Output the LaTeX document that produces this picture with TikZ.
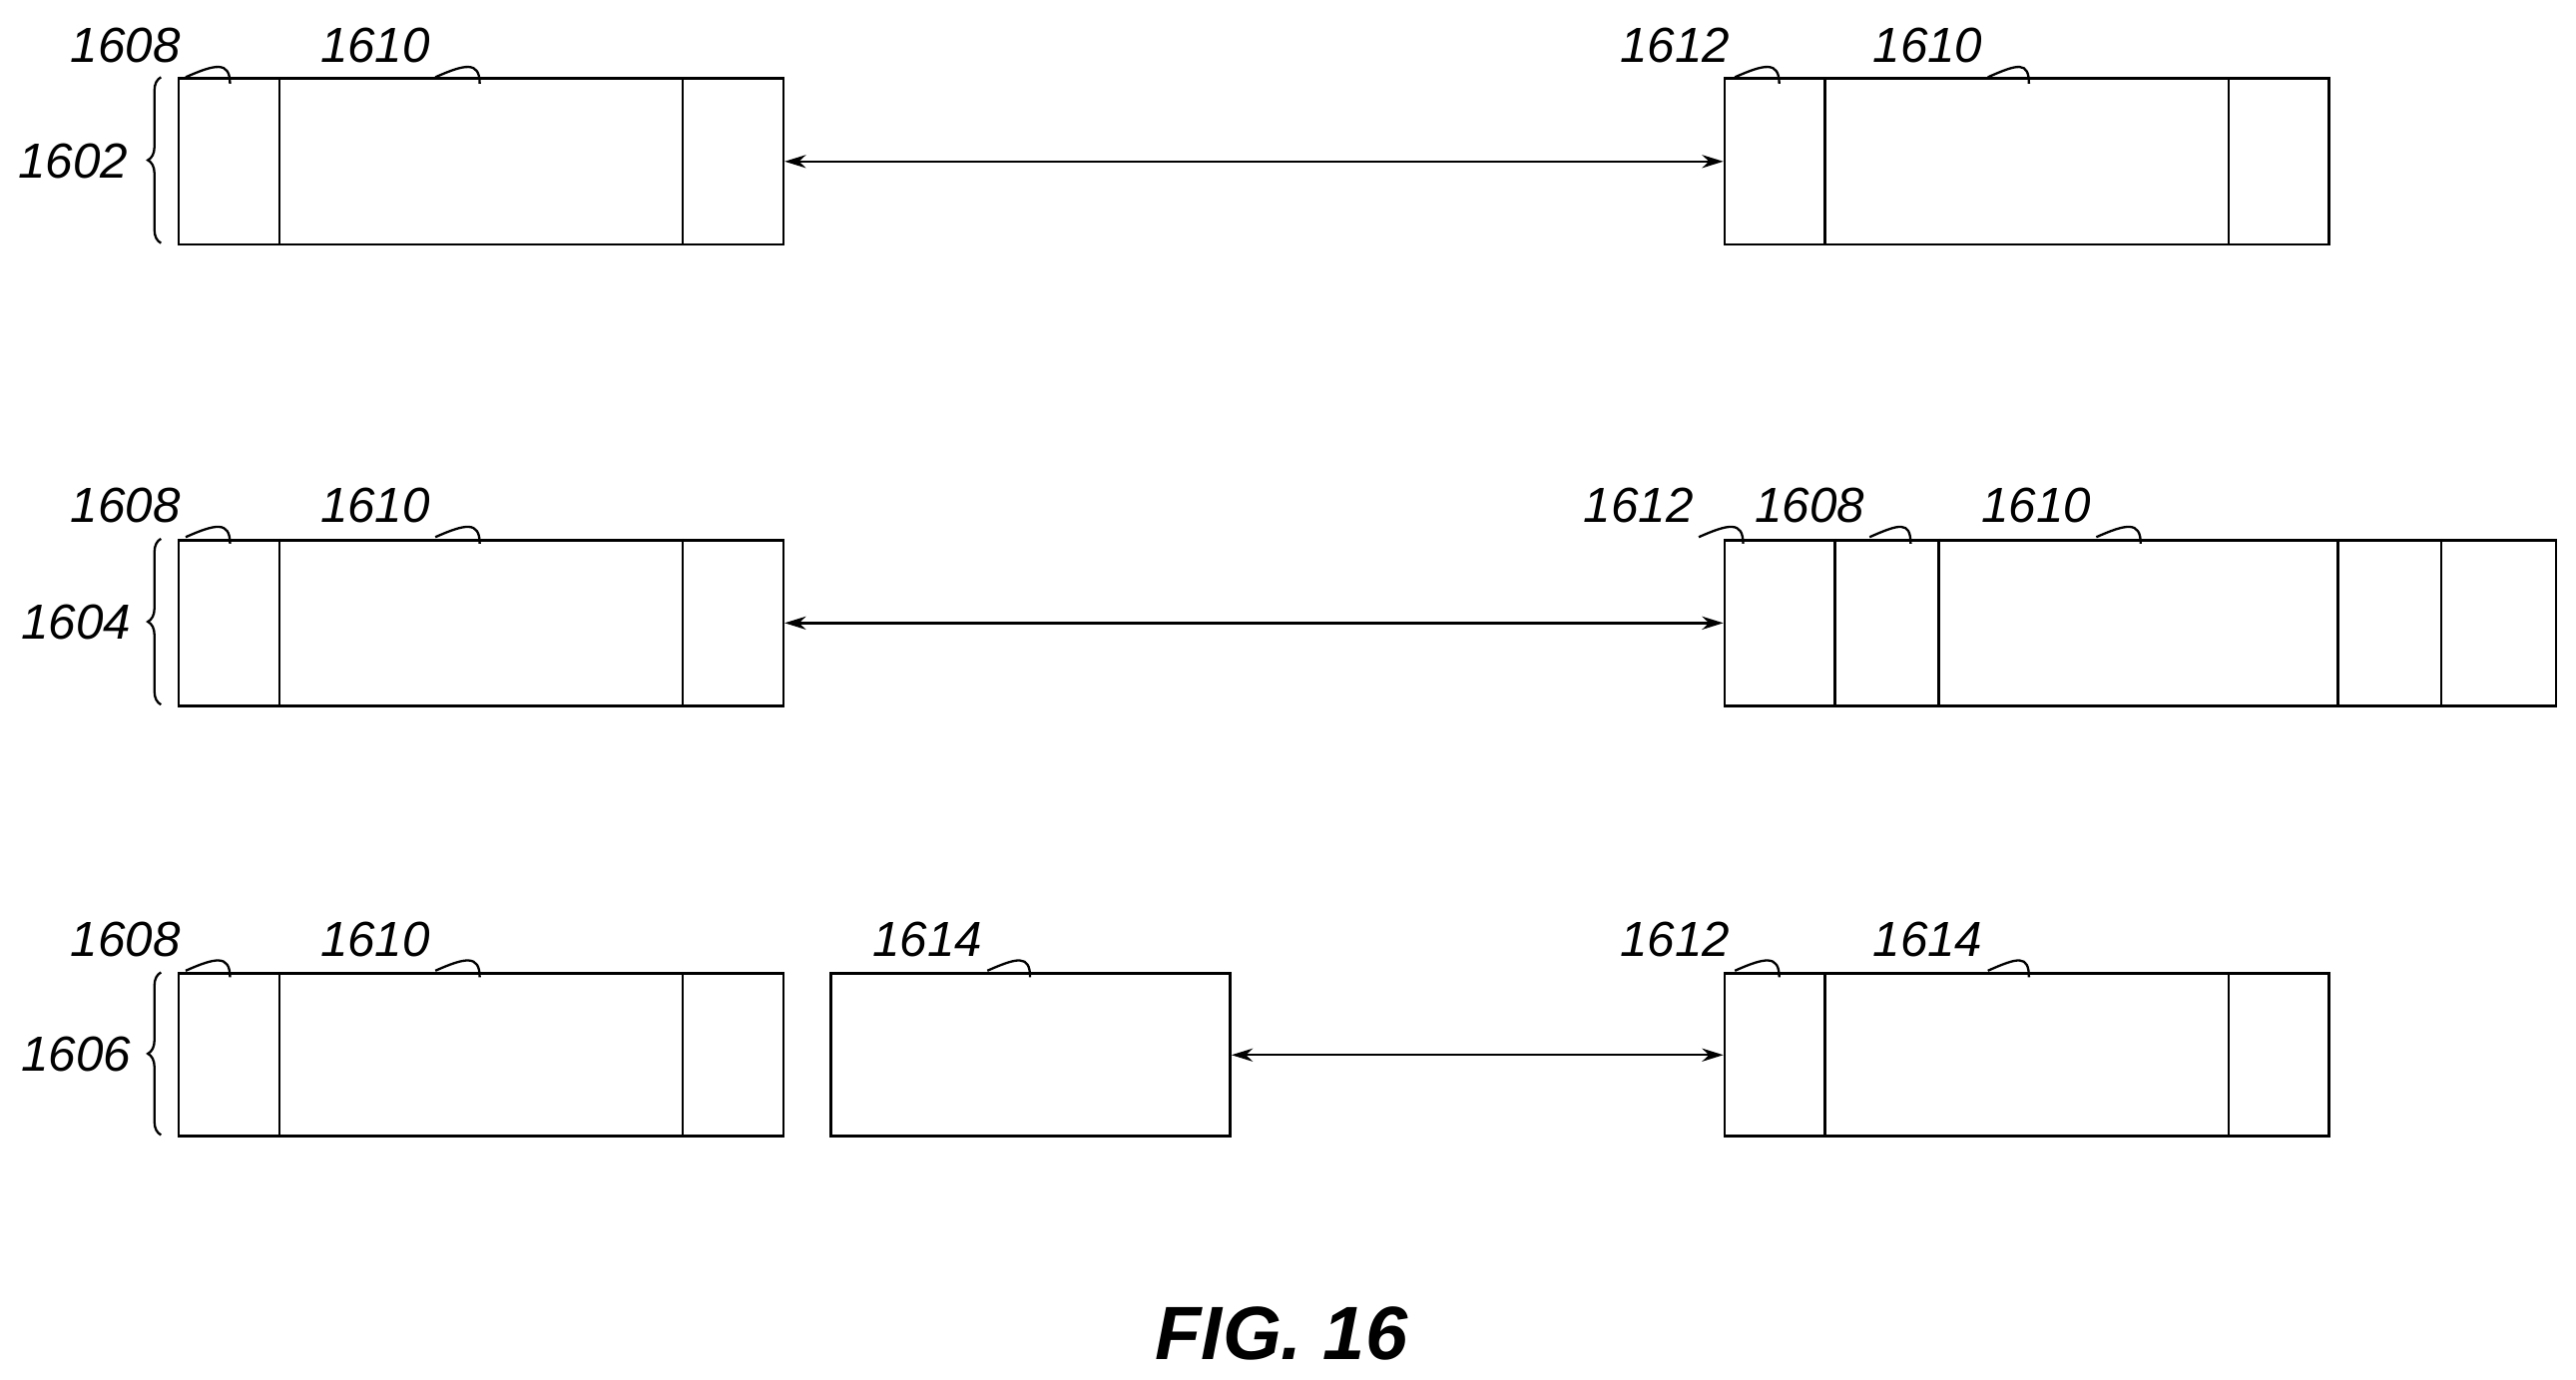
\documentclass[tikz,border=0pt]{standalone}
\usepackage{fontspec}
\setmainfont{Liberation Sans}
\usetikzlibrary{arrows.meta,decorations.pathreplacing}
\tikzset{
  cell/.style={draw,line width=1.6pt,minimum height=101pt,inner sep=0pt,anchor=north west},
  num/.style={font=\fontsize{30}{36}\selectfont\itshape,anchor=base east,inner sep=0pt},
  link/.style={line width=1.4pt,{Stealth[length=13pt,width=8pt]}-{Stealth[length=13pt,width=8pt]}},
  lead/.style={line width=1.4pt},
  grp/.style={line width=1.4pt,decorate,decoration={brace,amplitude=8pt}}
}
\newcommand{\refnum}[5]{% name, text, x, y, box-top x
  \node[num] (#1) at (#3,#4) {#2};
  \draw[lead] ([xshift=3pt,yshift=9pt]#1.base east) .. controls +(18,-8) and +(0,-14) .. (#5,#4+9+4);
}
\begin{document}
\begin{tikzpicture}[x=1pt,y=1pt,yscale=-1]
\useasboundingbox (0,0) rectangle (1568,840);
% row 1602
\node[cell,minimum width=368pt] (l1) at (108,47) {};
\node[cell,minimum width=368pt] (r1) at (1049,47) {};
\draw[line width=1.6pt] ([xshift=62pt]l1.north west) -- ([xshift=62pt]l1.south west);
\draw[line width=1.6pt] ([xshift=-62pt]l1.north east) -- ([xshift=-62pt]l1.south east);
\draw[line width=1.6pt] ([xshift=62pt]r1.north west) -- ([xshift=62pt]r1.south west);
\draw[line width=1.6pt] ([xshift=-62pt]r1.north east) -- ([xshift=-62pt]r1.south east);
\draw[link] (l1.east) -- (r1.west);
\draw[grp] (98,148) -- (98,47);
\node[num,anchor=east] (g1) at (78,98) {1602};
\refnum{a1}{1608}{110}{38}{140}
\refnum{b1}{1610}{262}{38}{292}
\refnum{c1}{1612}{1053}{38}{1083}
\refnum{d1}{1610}{1207}{38}{1235}
% row 1604
\node[cell,minimum width=368pt] (l2) at (108,328) {};
\node[cell,minimum width=506pt] (r2) at (1049,328) {};
\draw[line width=1.6pt] ([xshift=62pt]l2.north west) -- ([xshift=62pt]l2.south west);
\draw[line width=1.6pt] ([xshift=-62pt]l2.north east) -- ([xshift=-62pt]l2.south east);
\foreach \dx in {68,131,374,437}
  \draw[line width=1.6pt] ([xshift=\dx pt]r2.north west) -- ([xshift=\dx pt]r2.south west);
\draw[link] (l2.east) -- (r2.west);
\draw[grp] (98,429) -- (98,328);
\node[num,anchor=east] (g2) at (80,379) {1604};
\refnum{a2}{1608}{110}{318}{140}
\refnum{b2}{1610}{262}{318}{292}
\refnum{c2}{1612}{1031}{318}{1061}
\refnum{d2}{1608}{1135}{318}{1163}
\refnum{e2}{1610}{1273}{318}{1303}
% row 1606
\node[cell,minimum width=368pt,minimum height=99pt] (l3) at (108,592) {};
\node[cell,minimum width=243pt,minimum height=99pt] (m3) at (505,592) {};
\node[cell,minimum width=368pt,minimum height=99pt] (r3) at (1049,592) {};
\draw[line width=1.6pt] ([xshift=62pt]l3.north west) -- ([xshift=62pt]l3.south west);
\draw[line width=1.6pt] ([xshift=-62pt]l3.north east) -- ([xshift=-62pt]l3.south east);
\draw[line width=1.6pt] ([xshift=62pt]r3.north west) -- ([xshift=62pt]r3.south west);
\draw[line width=1.6pt] ([xshift=-62pt]r3.north east) -- ([xshift=-62pt]r3.south east);
\draw[link] (m3.east) -- (r3.west);
\draw[grp] (98,691) -- (98,592);
\node[num,anchor=east] (g3) at (80,642) {1606};
\refnum{a3}{1608}{110}{582}{140}
\refnum{b3}{1610}{262}{582}{292}
\refnum{c3}{1614}{598}{582}{627}
\refnum{d3}{1612}{1053}{582}{1083}
\refnum{e3}{1614}{1207}{582}{1235}
% caption
\node[font=\fontsize{46}{50}\selectfont\bfseries\itshape] (fig) at (780,812) {FIG. 16};
\end{tikzpicture}
\end{document}
